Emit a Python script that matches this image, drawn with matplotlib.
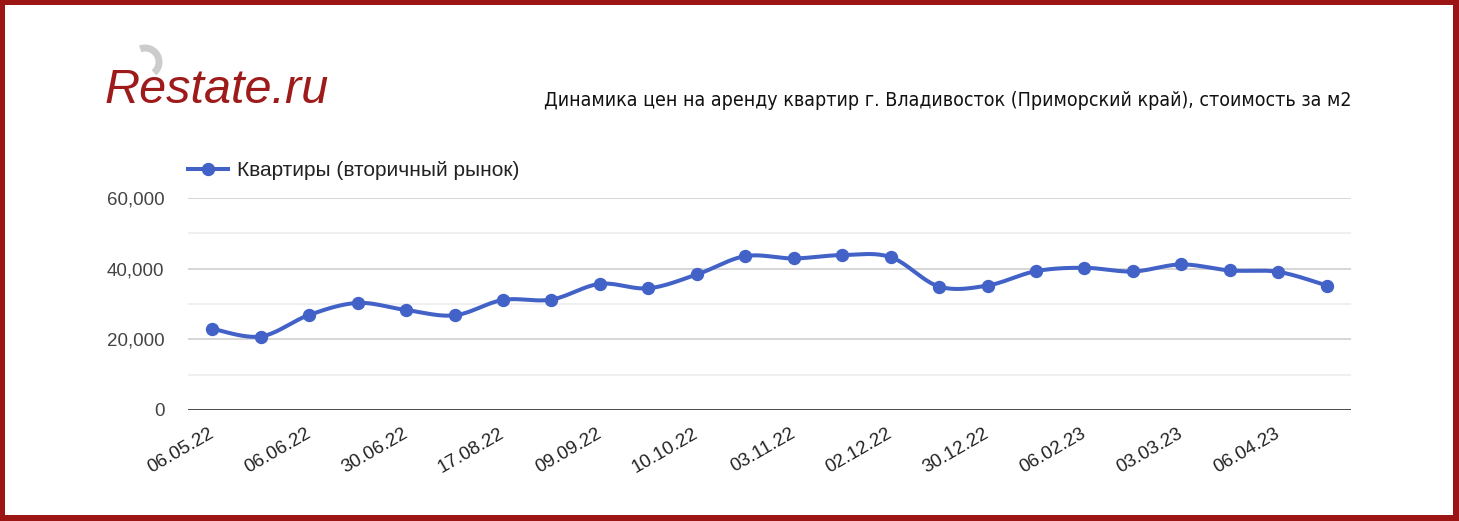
import numpy as np
import matplotlib
matplotlib.use('Agg')
import matplotlib.pyplot as plt
import matplotlib.transforms as mtransforms
from matplotlib.lines import Line2D
from matplotlib.patches import Rectangle, Arc
from matplotlib.ticker import MultipleLocator, FuncFormatter, FixedLocator

# ---- data ----
values = [23000, 20800, 26900, 30300, 28300, 26800, 31150, 31250, 35700, 34450,
          38350, 43550, 42900, 43850, 43270, 34940, 35230, 39300, 40250, 39200,
          41200, 39500, 39100, 35230]
tick_labels = ['06.05.22', '06.06.22', '30.06.22', '17.08.22', '09.09.22', '10.10.22',
               '03.11.22', '02.12.22', '30.12.22', '06.02.23', '03.03.23', '06.04.23']
y_ticks = [0, 20000, 40000, 60000]
series_name = 'Квартиры (вторичный рынок)'
title = 'Динамика цен на аренду квартир г. Владивосток (Приморский край), стоимость за м2'
logo = 'Restate.ru'

W, H = 1459, 521
BLUE = '#4262c8'
RED = '#9b1515'


def smooth(x, y, n=24, s=1 / 6):
    P = np.column_stack([x, y]).astype(float)
    out = [P[0]]
    m = len(P)
    for i in range(m - 1):
        p0 = P[i - 1] if i > 0 else P[i]
        p3 = P[i + 2] if i + 2 < m else P[i + 1]
        c1 = P[i] + (P[i + 1] - p0) * s
        c2 = P[i + 1] - (p3 - P[i]) * s
        t = np.linspace(0, 1, n)[1:, None]
        seg = ((1 - t) ** 3) * P[i] + 3 * ((1 - t) ** 2) * t * c1 + 3 * (1 - t) * t ** 2 * c2 + t ** 3 * P[i + 1]
        out.extend(seg)
    out = np.array(out)
    return out[:, 0], out[:, 1]


fig = plt.figure(figsize=(W / 100, H / 100), dpi=100)
fig.patch.set_facecolor('white')

# decoration layer in pixel coordinates
deco = fig.add_axes([0, 0, 1, 1], zorder=0)
deco.set_xlim(0, W)
deco.set_ylim(H, 0)
deco.axis('off')
for (x0, y0, w, h) in [(0, 0, W, 5), (0, 0, 5, H), (W - 6, 0, 6, H), (0, H - 6, W, 6)]:
    deco.add_patch(Rectangle((x0, y0), w, h, color=RED, lw=0))

# logo
deco.add_patch(Arc((145, 62), 28, 28, theta1=-110, theta2=50, lw=5, color='#cccccc'))
deco.text(105, 103, logo, fontsize=35, style='italic', color='#9e1b1b',
          family='Liberation Sans', va='baseline', ha='left')

# title
deco.text(1352, 100, title, ha='right', va='center', fontsize=14.0,
          family=['Liberation Sans Narrow', 'DejaVu Sans'], fontstretch='condensed',
          color='#111111')

# main chart
ax = fig.add_axes([188 / W, 1 - 410 / H, (1351 - 188) / W, (410 - 198) / H], zorder=1)
ax.set_facecolor('none')
x = np.arange(len(values))
xs, ys = smooth(x, values)
ax.plot(xs, ys, color=BLUE, lw=2.9, solid_capstyle='round', clip_on=False, zorder=3)
ax.plot(x, values, 'o', color=BLUE, ms=8.6, clip_on=False, zorder=4)

ax.set_xlim(-0.5, len(values) - 0.5)
ax.set_ylim(0, 60000)
for sp in ax.spines.values():
    sp.set_visible(False)
ax.axhline(0, color='#333333', lw=1.2, zorder=2)

ax.yaxis.set_major_locator(FixedLocator(y_ticks))
ax.yaxis.set_minor_locator(MultipleLocator(10000))
ax.yaxis.set_major_formatter(FuncFormatter(lambda v, p: f'{int(v):,}'))
ax.grid(which='major', axis='y', color='#cccccc', lw=1.1, zorder=1)
ax.grid(which='minor', axis='y', color='#ebebeb', lw=1.1, zorder=1)
ax.tick_params(axis='y', which='both', length=0, pad=17, labelsize=13.5, labelcolor='#444444')

ax.set_xticks(x[::2])
ax.set_xticklabels(tick_labels, rotation=30, ha='right', va='top', rotation_mode='anchor')
ax.tick_params(axis='x', length=0, pad=11, labelsize=13.5, labelcolor='#222222')
shift = mtransforms.ScaledTranslation(-4 / 100, 0, fig.dpi_scale_trans)
for lab in ax.get_xticklabels():
    lab.set_transform(lab.get_transform() + shift)
for lab in ax.get_yticklabels() + ax.get_xticklabels():
    lab.set_family('Liberation Sans')

handle = Line2D([], [], color=BLUE, lw=2.9, marker='o', ms=8.6)
leg = ax.legend(handles=[handle], labels=[series_name], loc='center left',
                bbox_to_anchor=(188 / W, 1 - 171 / H), bbox_transform=fig.transFigure,
                frameon=False, handlelength=1.9, handletextpad=0.45, borderpad=0,
                borderaxespad=0, prop={'family': 'Liberation Sans', 'size': 15})
for t in leg.get_texts():
    t.set_color('#222222')

fig.savefig('out.png', dpi=100)
